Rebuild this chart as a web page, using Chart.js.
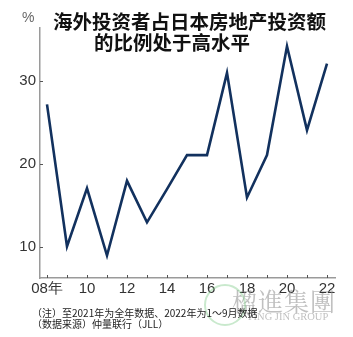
<!DOCTYPE html>
<html>
<head>
<meta charset="utf-8">
<script src="https://cdn.jsdelivr.net/npm/chart.js@4.4.1/dist/chart.umd.min.js"></script>
<style>
  html, body { margin: 0; padding: 0; background: #fff; }
  #wrap { position: relative; width: 353px; height: 337px; overflow: hidden; }
  #chart { position: absolute; left: 0; top: 0; }
  .txt { position: absolute; white-space: nowrap; }
  .title { font-family: "Noto Sans CJK SC", sans-serif; font-weight: bold; font-size: 19.5px; color: #111; line-height: 22px; }
  .note { font-family: "Noto Sans CJK SC", sans-serif; font-size: 10px; color: #222; line-height: 11px; }
  .unit { font-family: "Liberation Sans", sans-serif; font-size: 14px; color: #666; }
  .wm { font-family: "Noto Serif CJK SC", "Noto Sans CJK TC", serif; color: rgba(140,140,140,0.55); }
</style>
</head>
<body>
<div id="wrap">
  <canvas id="chart" width="353" height="337"></canvas>
  <div class="txt unit" style="left:22px; top:9px;">%</div>
  <div class="txt title" style="left:53px; top:10px;">海外投资者占日本房地产投资额</div>
  <div class="txt title" style="left:94px; top:31px;">的比例处于高水平</div>
  <div class="txt wm" style="left:232px; top:282px; font-size:25px; letter-spacing:1px;">楹進集團</div>
  <div class="txt wm" style="left:246px; top:311px; font-size:10.5px; font-family:'Liberation Serif', serif;">YING JIN GROUP</div>
  <div class="txt" style="left:204px; top:284px; width:38px; height:38px; border:2px solid rgba(120,200,130,0.4); border-radius:50%;"></div>
  <div class="txt note" style="left:32px; top:307px;">（注）至2021年为全年数据、2022年为1～9月数据</div>
  <div class="txt note" style="left:32px; top:318px;">（数据来源）仲量联行（JLL）</div>
</div>
<script>
  // data
  const years = [2008, 2009, 2010, 2011, 2012, 2013, 2014, 2015, 2016, 2017, 2018, 2019, 2020, 2021, 2022];
  const shares = [27.2, 10.1, 17.1, 9.0, 18.0, 13.0, 17.0, 21.1, 21.1, 31.0, 16.0, 21.1, 34.2, 24.1, 32.1];
  const yTicks = [10, 20, 30];

  const axisColor = "#9a9a9a";
  const labelColor = "#333333";

  // small tick marks pointing into the plot area
  const innerTicks = {
    id: "innerTicks",
    afterDraw(chart) {
      const { ctx } = chart;
      const xs = chart.scales.x;
      const ys = chart.scales.y;
      ctx.save();
      ctx.strokeStyle = "#555";
      ctx.lineWidth = 1;
      ctx.beginPath();
      years.forEach((yr) => {
        const px = Math.round(xs.getPixelForValue(yr)) + 0.5;
        ctx.moveTo(px, xs.top);
        ctx.lineTo(px, xs.top - 3);
      });
      yTicks.forEach((v) => {
        const py = Math.round(ys.getPixelForValue(v)) + 0.5;
        ctx.moveTo(ys.right, py);
        ctx.lineTo(ys.right + 3, py);
      });
      ctx.stroke();
      ctx.restore();
    },
  };

  const tickFont = { family: "'Liberation Sans Narrow', 'Liberation Sans', sans-serif", size: 15 };

  new Chart(document.getElementById("chart"), {
    type: "line",
    data: {
      datasets: [
        {
          data: years.map((yr, i) => ({ x: yr, y: shares[i] })),
          borderColor: "#12315e",
          borderWidth: 2.6,
          pointRadius: 0,
          tension: 0,
          fill: false,
        },
      ],
    },
    options: {
      responsive: false,
      animation: false,
      events: [],
      layout: { padding: { top: 28, left: 0, right: 18, bottom: 29 } },
      plugins: {
        legend: { display: false },
        tooltip: { enabled: false },
        title: { display: false },
      },
      scales: {
        x: {
          type: "linear",
          min: 2007.65,
          max: 2022.4,
          grid: { display: false, drawTicks: false },
          border: { display: true, color: axisColor, width: 1.5 },
          afterBuildTicks(scale) {
            scale.ticks = years.map((yr) => ({ value: yr }));
          },
          afterFit(scale) {
            scale.height = 30;
          },
          ticks: {
            autoSkip: false,
            maxRotation: 0,
            padding: 2,
            color: labelColor,
            font: tickFont,
            callback: (v) => {
              if (v % 2 !== 0) return "";
              const s = String(v).slice(2);
              return v === 2008 ? s + "年" : s;
            },
          },
        },
        y: {
          min: 6.3,
          max: 36.4,
          grid: { display: false, drawTicks: false },
          border: { display: true, color: axisColor, width: 1.5 },
          afterBuildTicks(scale) {
            scale.ticks = yTicks.map((v) => ({ value: v }));
          },
          afterFit(scale) {
            scale.width = 40;
          },
          ticks: {
            padding: 4,
            color: labelColor,
            font: tickFont,
          },
        },
      },
    },
    plugins: [innerTicks],
  });
</script>
</body>
</html>
